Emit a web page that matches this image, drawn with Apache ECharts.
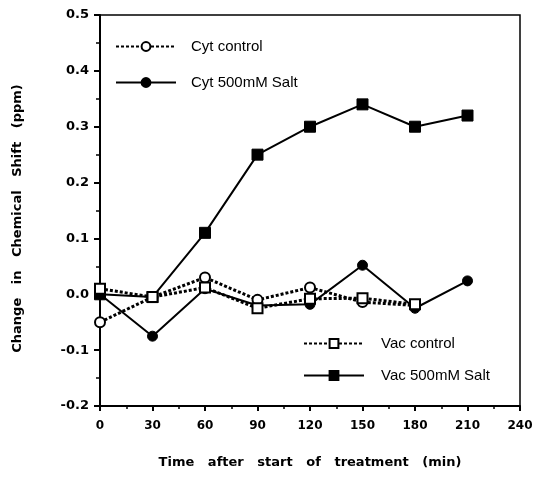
<!DOCTYPE html>
<html>
<head>
<meta charset="utf-8">
<script src="https://cdn.jsdelivr.net/npm/echarts@6/dist/echarts.min.js"></script>
<style>
  html, body { margin: 0; padding: 0; background: #fff; }
  #main { width: 538px; height: 484px; }
</style>
</head>
<body>
<div id="main"></div>
<script>
var times = [0, 30, 60, 90, 120, 150, 180, 210];
var cytControl = [-0.05, -0.005, 0.03, -0.01, 0.012, -0.014, -0.02];
var cytSalt = [0.0, -0.075, 0.01, -0.02, -0.018, 0.052, -0.025, 0.024];
var vacControl = [0.01, -0.005, 0.012, -0.025, -0.008, -0.007, -0.018];
var vacSalt = [0.0, -0.005, 0.11, 0.25, 0.30, 0.34, 0.30, 0.32];

function pairs(ys) {
  var out = [];
  for (var i = 0; i < ys.length; i++) { out.push([times[i], ys[i]]); }
  return out;
}

var font = 'Liberation Sans, Arial, sans-serif';
var heavy = 'DejaVu Sans, sans-serif';
var myChart = echarts.init(document.getElementById('main'));

var option = {
  backgroundColor: '#fff',
  animation: false,
  grid: {
    left: 100, right: 18, top: 15, bottom: 78,
    show: true, borderColor: '#000', borderWidth: 1.5
  },
  legend: [{
    data: ['Cyt control', 'Cyt 500mM Salt'],
    orient: 'vertical', left: 110, top: 34,
    itemWidth: 60, itemHeight: 11, itemGap: 21,
    textStyle: { fontFamily: font, fontSize: 15, color: '#000', padding: [0, 0, 0, 10] }
  }, {
    data: ['Vac control', 'Vac 500mM Salt'],
    orient: 'vertical', left: 298, top: 331,
    itemWidth: 60, itemHeight: 11, itemGap: 17,
    textStyle: { fontFamily: font, fontSize: 15, color: '#000', padding: [0, 0, 0, 12] }
  }],
  xAxis: {
    type: 'value', min: 0, max: 240, interval: 30,
    name: 'Time   after   start   of   treatment   (min)',
    nameLocation: 'middle', nameGap: 50,
    nameTextStyle: { fontFamily: heavy, fontWeight: 'bold', fontSize: 13, color: '#000' },
    axisLine: { show: true, onZero: false, lineStyle: { color: '#000', width: 2 } },
    axisTick: { show: true, length: 5, lineStyle: { color: '#000', width: 2 } },
    minorTick: { show: true, splitNumber: 2, length: 3, lineStyle: { color: '#000', width: 1.5 } },
    splitLine: { show: false },
    axisLabel: {
      fontFamily: heavy, fontWeight: 'bold', fontSize: 12, color: '#000', margin: 14
    }
  },
  yAxis: {
    type: 'value', min: -0.2, max: 0.5, interval: 0.1,
    name: 'Change   in   Chemical   Shift   (ppm)',
    nameLocation: 'middle', nameGap: 76,
    nameTextStyle: { fontFamily: heavy, fontWeight: 'bold', fontSize: 13, color: '#000', padding: [0, 16, 0, 0] },
    axisLine: { show: true, onZero: false, lineStyle: { color: '#000', width: 2 } },
    axisTick: { show: true, length: 6, lineStyle: { color: '#000', width: 2 } },
    minorTick: { show: true, splitNumber: 2, length: 4, lineStyle: { color: '#000', width: 1.5 } },
    splitLine: { show: false },
    axisLabel: {
      fontFamily: heavy, fontWeight: 'bold', fontSize: 13, color: '#000', margin: 11,
      formatter: function (v) { return v.toFixed(1); }
    }
  },
  series: [{
    name: 'Cyt control', type: 'line', data: pairs(cytControl),
    symbol: 'circle', symbolSize: 10, z: 3,
    lineStyle: { color: '#000', width: 3, type: [3, 2] },
    itemStyle: { color: '#fff', borderColor: '#000', borderWidth: 2 }
  }, {
    name: 'Cyt 500mM Salt', type: 'line', data: pairs(cytSalt),
    symbol: 'circle', symbolSize: 10, z: 2,
    lineStyle: { color: '#000', width: 2 },
    itemStyle: { color: '#000', borderColor: '#000', borderWidth: 1 }
  }, {
    name: 'Vac control', type: 'line', data: pairs(vacControl),
    symbol: 'rect', symbolSize: 10, z: 3,
    lineStyle: { color: '#000', width: 3, type: [3, 2] },
    itemStyle: { color: '#fff', borderColor: '#000', borderWidth: 2 }
  }, {
    name: 'Vac 500mM Salt', type: 'line', data: pairs(vacSalt),
    symbol: 'rect', symbolSize: 11, z: 2,
    lineStyle: { color: '#000', width: 2 },
    itemStyle: { color: '#000', borderColor: '#000', borderWidth: 1 }
  }]
};
myChart.setOption(option);
</script>
</body>
</html>
